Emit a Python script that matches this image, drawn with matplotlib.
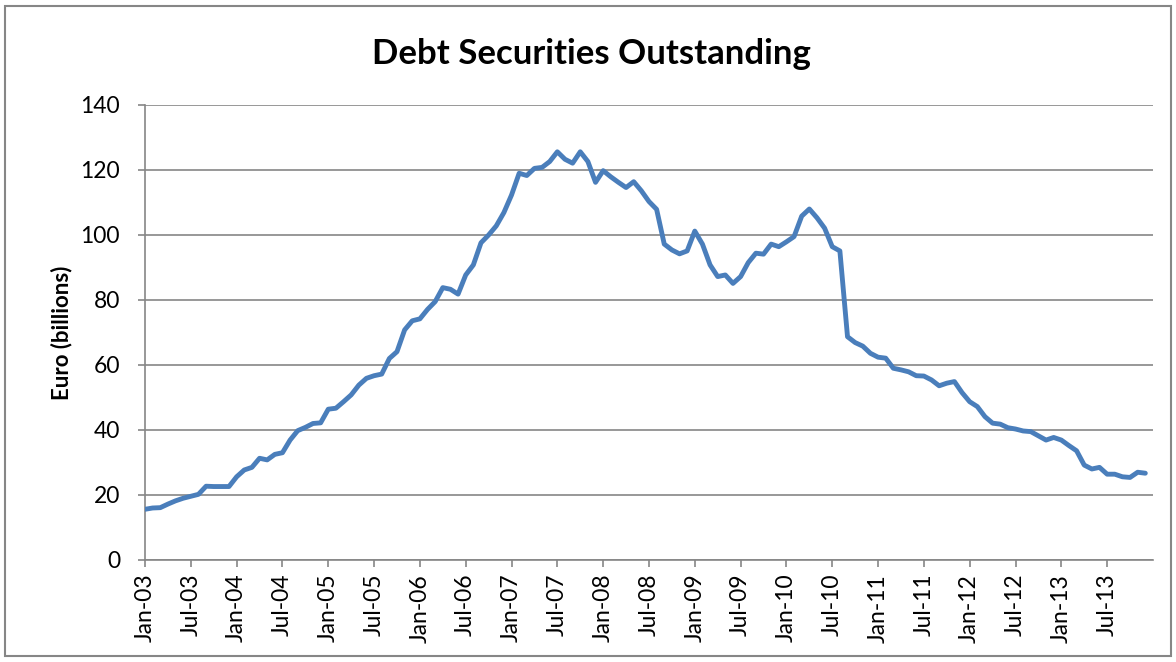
import matplotlib
matplotlib.use('Agg')
import matplotlib.pyplot as plt
from matplotlib.patches import Rectangle

# Monthly outstanding debt securities, Jan-03 .. Dec-13 (EUR billions)
values = [
    15.6, 16.0, 16.1, 17.2, 18.2, 19.0, 19.6, 20.2, 22.7, 22.6, 22.6, 22.6,   # 2003
    25.6, 27.7, 28.5, 31.3, 30.8, 32.5, 33.0, 36.9, 39.8, 40.8, 42.0, 42.2,   # 2004
    46.4, 46.7, 48.7, 50.8, 53.8, 55.9, 56.7, 57.2, 62.0, 64.1, 70.8, 73.6,   # 2005
    74.2, 77.1, 79.5, 83.8, 83.3, 81.8, 87.7, 90.8, 97.6, 100.0, 102.8, 106.9,  # 2006
    112.3, 119.0, 118.3, 120.5, 120.8, 122.6, 125.6, 123.3, 122.1, 125.6, 122.6, 116.2,  # 2007
    119.8, 117.9, 116.2, 114.6, 116.4, 113.6, 110.3, 107.9, 97.2, 95.4, 94.2, 95.1,  # 2008
    101.2, 97.2, 90.8, 87.2, 87.7, 85.1, 87.2, 91.5, 94.4, 94.1, 97.2, 96.4,   # 2009
    97.9, 99.5, 105.8, 108.0, 105.3, 102.1, 96.4, 95.1, 68.7, 66.9, 65.8, 63.6,  # 2010
    62.4, 62.1, 59.0, 58.5, 57.9, 56.7, 56.6, 55.4, 53.6, 54.4, 54.9, 51.5,   # 2011
    48.7, 47.2, 44.1, 42.1, 41.8, 40.7, 40.3, 39.7, 39.5, 38.2, 36.9, 37.7,   # 2012
    36.9, 35.2, 33.6, 29.2, 28.0, 28.5, 26.4, 26.4, 25.6, 25.4, 27.0, 26.7,   # 2013
]

tick_labels = ['Jan-03', 'Jul-03', 'Jan-04', 'Jul-04', 'Jan-05', 'Jul-05',
               'Jan-06', 'Jul-06', 'Jan-07', 'Jul-07', 'Jan-08', 'Jul-08',
               'Jan-09', 'Jul-09', 'Jan-10', 'Jul-10', 'Jan-11', 'Jul-11',
               'Jan-12', 'Jul-12', 'Jan-13', 'Jul-13']
y_ticks = [0, 20, 40, 60, 80, 100, 120, 140]

plt.rcParams['font.family'] = ['Lato', 'DejaVu Sans']
GREY = '#868686'

fig = plt.figure(figsize=(11.76, 6.62), dpi=100)
ax = fig.add_axes([0.1233, 0.1541, 0.8571, 0.6873])

months = list(range(len(values)))
ax.plot(months, values, color='#4a7ebb', linewidth=3.5, solid_joinstyle='round',
        solid_capstyle='round', zorder=3)

ax.set_xlim(0, 132)
ax.set_ylim(0, 140)
ax.set_yticks(y_ticks)
ax.set_xticks(range(0, 6 * len(tick_labels), 6))
ax.set_xticklabels(tick_labels, rotation=90)

ax.yaxis.grid(True, color=GREY, linewidth=1.2)
ax.set_axisbelow(True)
for side in ('top', 'right'):
    ax.spines[side].set_visible(False)
for side in ('left', 'bottom'):
    ax.spines[side].set_color(GREY)
    ax.spines[side].set_linewidth(1.2)
ax.tick_params(axis='both', colors=GREY, labelcolor='black', labelsize=16.5,
               length=5, width=1.2)
ax.tick_params(axis='y', pad=13)
ax.tick_params(axis='x', pad=5)

ax.set_ylabel('Euro (billions)', fontsize=16, fontweight='bold', labelpad=6)
fig.text(0.503, 0.919, 'Debt Securities Outstanding', ha='center', va='center',
         fontsize=25, fontweight='bold')

# chart frame
fig.patches.append(Rectangle((5 / 1176, 6 / 662), 1166 / 1176, 650 / 662,
                             transform=fig.transFigure, fill=False,
                             edgecolor=GREY, linewidth=1.5))

fig.savefig('out.png', dpi=100)
